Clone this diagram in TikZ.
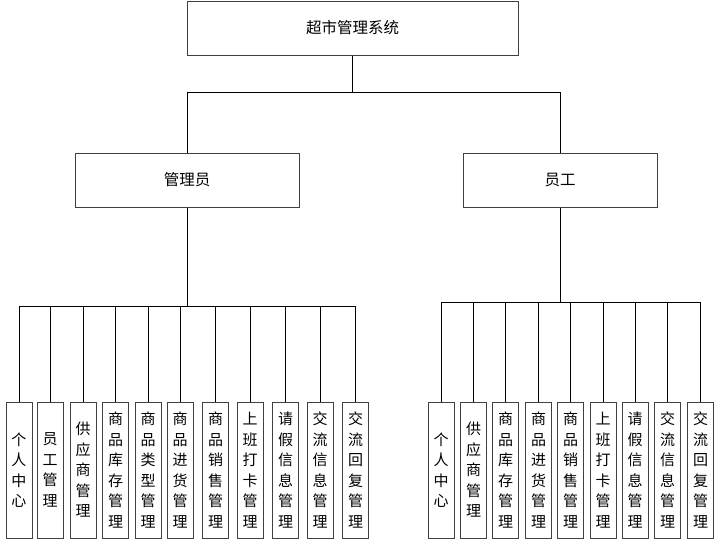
\documentclass[tikz,border=0pt]{standalone}
\usepackage{fontspec}
\setmainfont{Noto Sans CJK SC}
\begin{document}
\begin{tikzpicture}[x=1pt,y=-1pt,
  box/.style={draw=black!75, line width=1pt, fill=white, inner sep=0pt},
  upper/.style={box, minimum height=54pt, font=\fontsize{15.5}{18}\selectfont},
  leaf/.style={box, minimum width=26pt, minimum height=136pt, align=center,
    font=\fontsize{15}{20.5}\selectfont},
  conn/.style={draw=black, line width=1pt}]
\useasboundingbox[fill=white] (0,0) rectangle (720,541);

% upper levels
\node[upper, minimum width=331pt] (root) at (352.5,28) {超市管理系统};
\node[upper, minimum width=224pt] (adm) at (187,180) {管理员};
\node[upper, minimum width=194pt] (emp) at (560,180) {员工};

\coordinate (topbus) at (352.5,92.5);
\coordinate (abus) at (0,306);
\coordinate (ebus) at (0,302);

% admin leaves
\node[leaf] (a1) at (19,470) {个\\人\\中\\心};
\node[leaf] (a2) at (50,470) {员\\工\\管\\理};
\node[leaf] (a3) at (83,470) {供\\应\\商\\管\\理};
\node[leaf] (a4) at (115.5,470) {商\\品\\库\\存\\管\\理};
\node[leaf] (a5) at (148,470) {商\\品\\类\\型\\管\\理};
\node[leaf] (a6) at (180,470) {商\\品\\进\\货\\管\\理};
\node[leaf] (a7) at (215.5,470) {商\\品\\销\\售\\管\\理};
\node[leaf] (a8) at (250,470) {上\\班\\打\\卡\\管\\理};
\node[leaf] (a9) at (285.5,470) {请\\假\\信\\息\\管\\理};
\node[leaf] (a10) at (320,470) {交\\流\\信\\息\\管\\理};
\node[leaf] (a11) at (355.5,470) {交\\流\\回\\复\\管\\理};

% employee leaves
\node[leaf] (e1) at (441,470) {个\\人\\中\\心};
\node[leaf] (e2) at (473.5,470) {供\\应\\商\\管\\理};
\node[leaf] (e3) at (505.5,470) {商\\品\\库\\存\\管\\理};
\node[leaf] (e4) at (538.5,470) {商\\品\\进\\货\\管\\理};
\node[leaf] (e5) at (570.5,470) {商\\品\\销\\售\\管\\理};
\node[leaf] (e6) at (603,470) {上\\班\\打\\卡\\管\\理};
\node[leaf] (e7) at (635,470) {请\\假\\信\\息\\管\\理};
\node[leaf] (e8) at (667.5,470) {交\\流\\信\\息\\管\\理};
\node[leaf] (e9) at (700.5,470) {交\\流\\回\\复\\管\\理};

% connectors: top level
\draw[conn] (root.south) -- (topbus);
\draw[conn] (adm.north) |- (topbus);
\draw[conn] (topbus) -| (emp.north);

% connectors: admin
\draw[conn] (adm.south) -- (adm.south |- abus);
\draw[conn] (a1.north |- abus) -- (a11.north |- abus);
\foreach \n in {a1,a2,a3,a4,a5,a6,a7,a8,a9,a10,a11}
  \draw[conn] (\n.north) -- (\n.north |- abus);

% connectors: employee
\draw[conn] (emp.south) -- (emp.south |- ebus);
\draw[conn] (e1.north |- ebus) -- (e9.north |- ebus);
\foreach \n in {e1,e2,e3,e4,e5,e6,e7,e8,e9}
  \draw[conn] (\n.north) -- (\n.north |- ebus);
\end{tikzpicture}
\end{document}
